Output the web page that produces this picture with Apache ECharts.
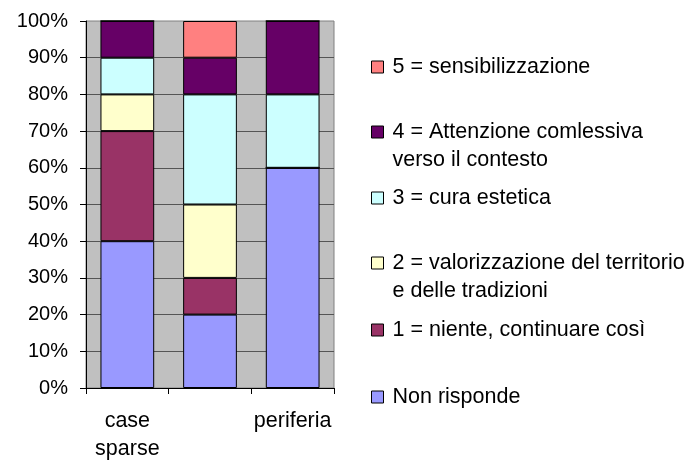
<!DOCTYPE html>
<html>
<head>
<meta charset="utf-8">
<script src="https://cdn.jsdelivr.net/npm/echarts@6/dist/echarts.min.js"></script>
<style>html,body{margin:0;padding:0;background:#fff}#c{width:693px;height:460px}</style>
</head>
<body>
<div id="c"></div>
<script>
var categories = ['case sparse', 'centro', 'periferia'];
var yTicks = [0, 10, 20, 30, 40, 50, 60, 70, 80, 90, 100];
var nonRisponde = [40, 20, 60];
var niente = [30, 10, 0];
var valorizzazione = [10, 20, 0];
var curaEstetica = [10, 30, 20];
var attenzione = [10, 10, 20];
var sensibilizzazione = [0, 10, 0];

var seriesNames = ['Non risponde', '1 = niente, continuare così', '2 = valorizzazione del territorio e delle tradizioni', '3 = cura estetica', '4 = Attenzione comlessiva verso il contesto', '5 = sensibilizzazione'];
var seriesData = [nonRisponde, niente, valorizzazione, curaEstetica, attenzione, sensibilizzazione];
var colors = ['#9999FF', '#993366', '#FFFFCC', '#CCFFFF', '#660066', '#FF8080'];
var legendLines = {
  '4 = Attenzione comlessiva verso il contesto': ['4 = Attenzione comlessiva', 'verso il contesto'],
  '2 = valorizzazione del territorio e delle tradizioni': ['2 = valorizzazione del territorio', 'e delle tradizioni']
};

var FONT = 'Liberation Sans, Arial, sans-serif';
var FS = 20;
var FSL = 21.5;

var series = seriesNames.map(function (n, i) {
  return {
    name: n, type: 'bar', stack: 'tot', barWidth: '65%',
    data: seriesData[i],
    itemStyle: { color: colors[i], borderColor: '#000', borderWidth: 1 },
    emphasis: { disabled: true }
  };
});

// legend order top to bottom: 5,4,3,2,1,NR ; first-line centers
var legendCenters = [67, 132, 198, 263, 330, 397];
var legendOrder = [5, 4, 3, 2, 1, 0];
var legends = legendOrder.map(function (si, k) {
  var name = seriesNames[si];
  var multi = !!legendLines[name];
  return {
    show: true, orient: 'vertical', left: 371,
    top: legendCenters[k] - (multi ? 42 : 14),
    padding: 0, itemWidth: 12, itemHeight: 12, icon: 'rect',
    data: [name],
    selectedMode: false,
    itemStyle: { borderColor: '#000', borderWidth: 1 },
    formatter: function (n) {
      var lines = legendLines[n];
      if (lines) return '\n' + lines.map(function (l) { return '{t|' + l + '}'; }).join('\n');
      return '{t|' + n + '}';
    },
    textStyle: {
      fontFamily: FONT, fontSize: FSL, color: '#000', lineHeight: 28,
      rich: { t: { fontFamily: FONT, fontSize: FSL, color: '#000', lineHeight: 28, padding: [0, 0, 0, 4] } }
    }
  };
});

var chart = echarts.init(document.getElementById('c'));
chart.setOption({
  animation: false,
  backgroundColor: '#fff',
  color: colors,
  legend: legends,
  grid: {
    left: 86, right: 359, top: 21, bottom: 72,
    outerBoundsMode: 'none', containLabel: false,
    show: true, backgroundColor: '#C0C0C0', borderColor: '#808080', borderWidth: 1
  },
  xAxis: {
    type: 'category', data: categories,
    axisLine: { lineStyle: { color: '#000', width: 1 } },
    axisTick: { show: true, interval: 0, length: 6, lineStyle: { color: '#000' } },
    axisLabel: {
      interval: 1, margin: 19, fontFamily: FONT, fontSize: FSL, color: '#000', lineHeight: 28,
      formatter: function (v) { return v.replace(' ', '\n'); }
    },
    splitLine: { show: false }
  },
  yAxis: {
    type: 'value', min: yTicks[0], max: yTicks[yTicks.length - 1], interval: 10,
    axisLine: { show: true, lineStyle: { color: '#000', width: 1 } },
    axisTick: { show: true, length: 6, lineStyle: { color: '#000' } },
    axisLabel: { margin: 18, fontFamily: FONT, fontSize: FS, color: '#000', formatter: '{value}%' },
    splitLine: { show: true, showMaxLine: false, lineStyle: { color: '#555', width: 1 } }
  },
  series: series
});
</script>
</body>
</html>
